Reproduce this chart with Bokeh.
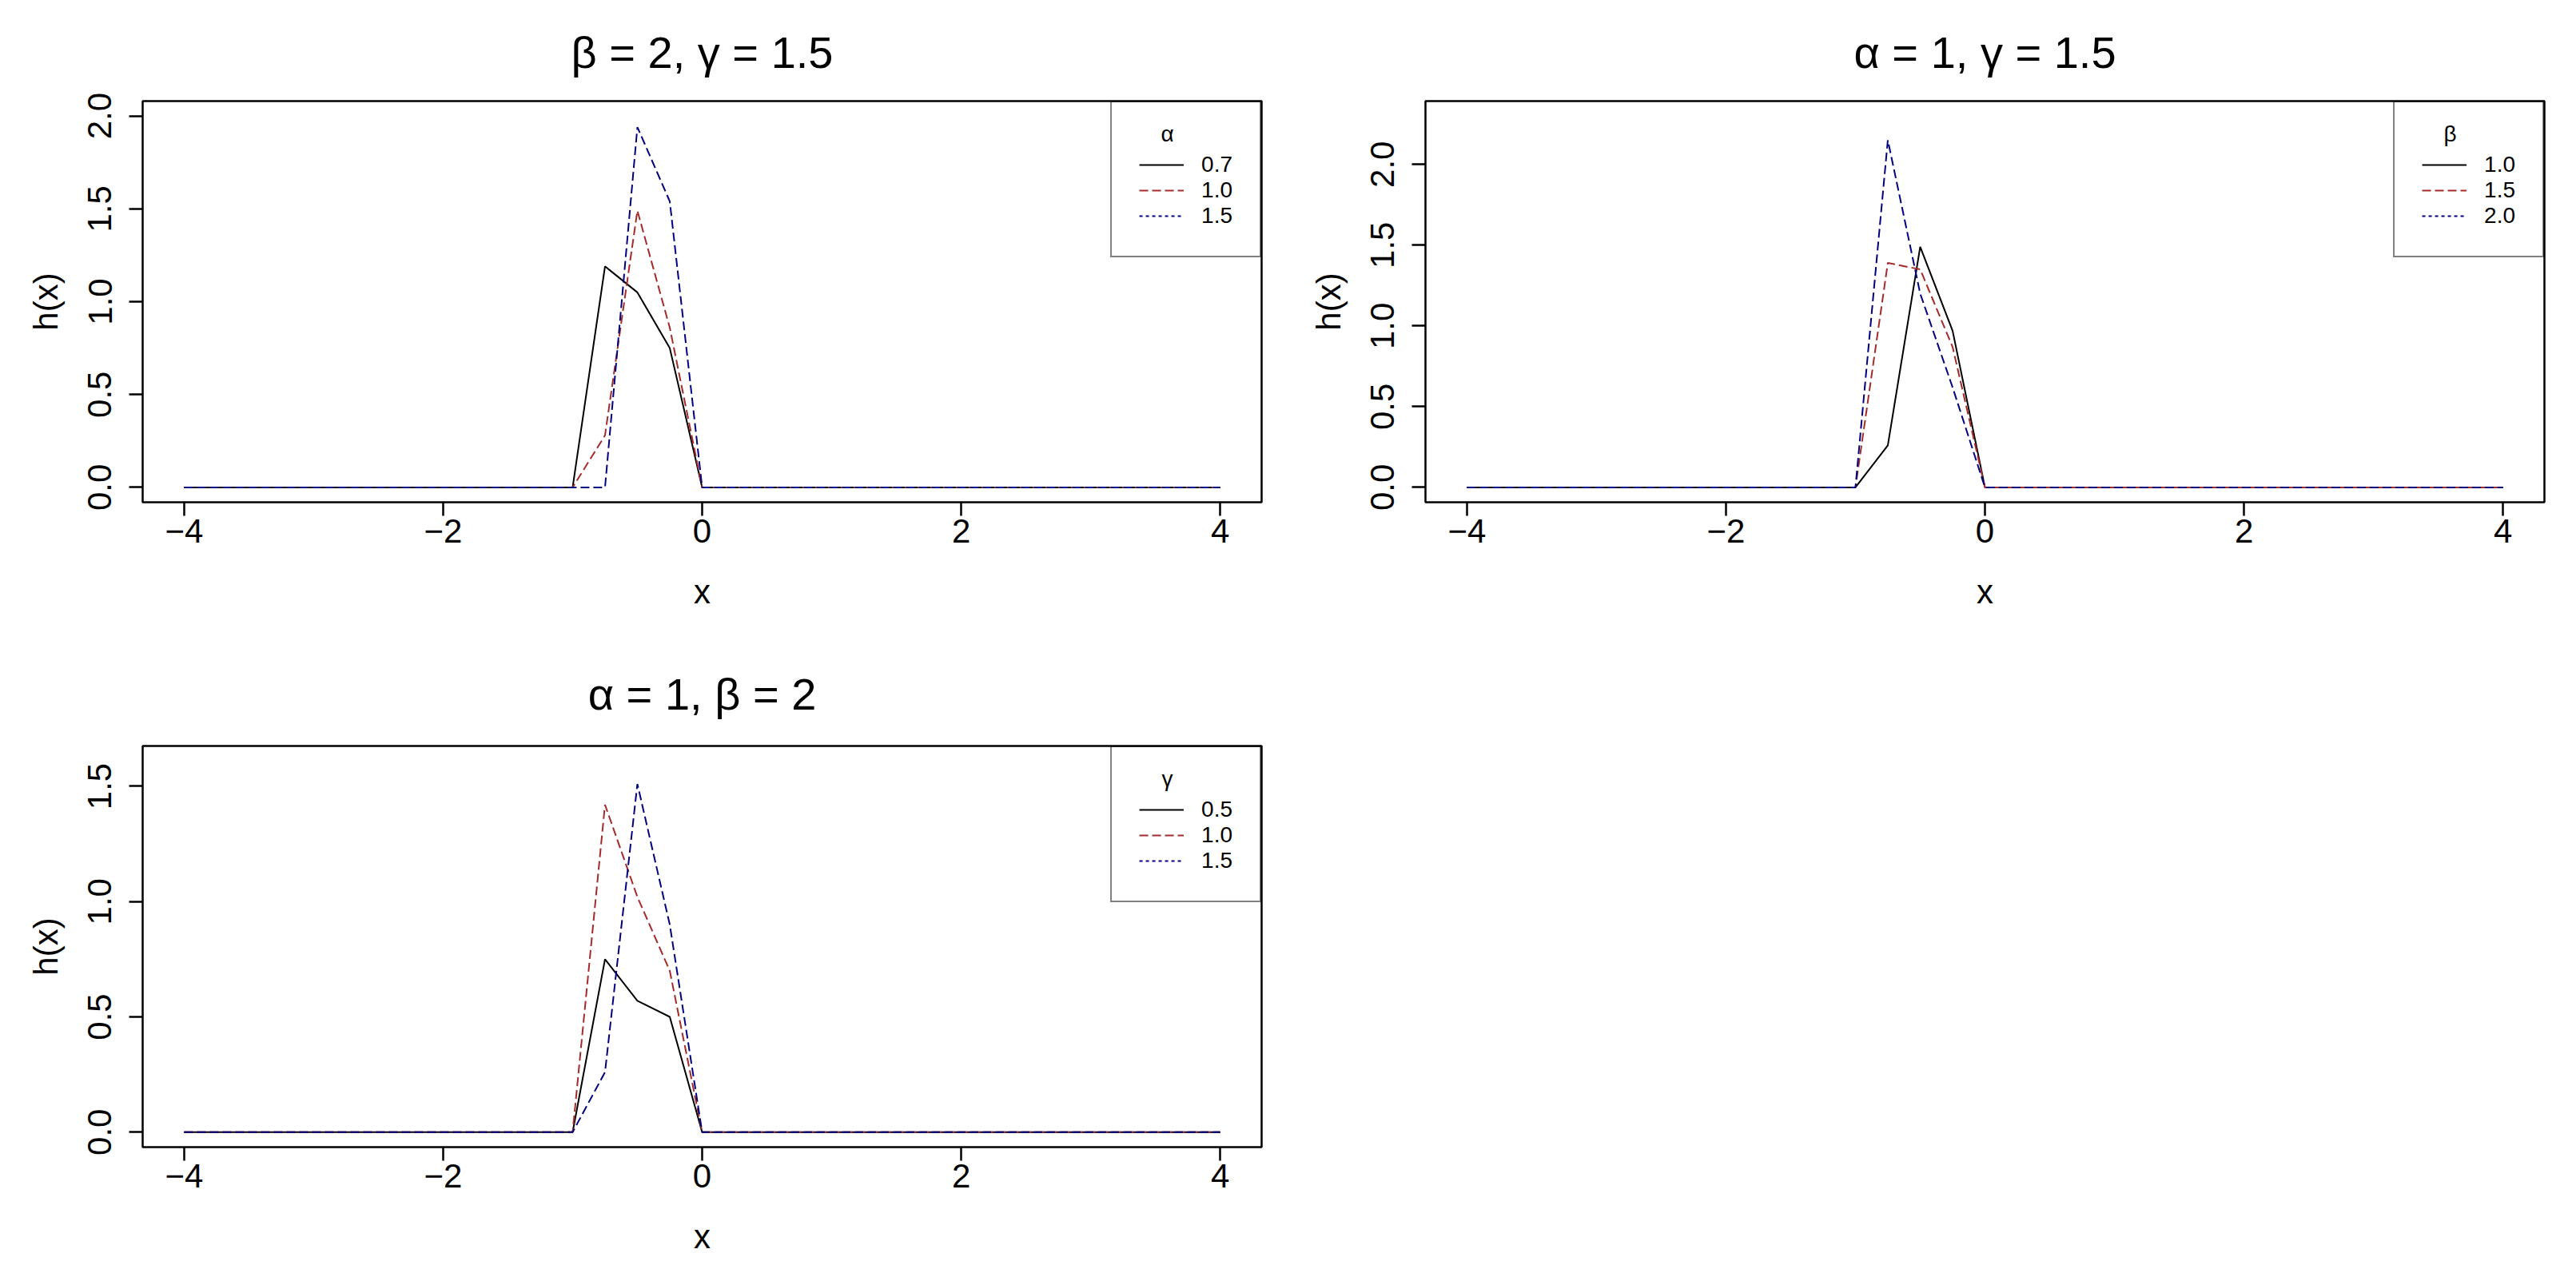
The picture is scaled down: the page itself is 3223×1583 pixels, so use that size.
from bokeh.plotting import figure
from bokeh.models import Range1d, FixedTicker, PrintfTickFormatter, Legend, LegendItem
from bokeh.core.properties import value
from bokeh.layouts import column, row
from bokeh.embed import file_html
from bokeh.resources import INLINE

# ---------------- data ----------------
x_pts = [-4.0, -1.0, -0.75, -0.5, -0.25, 0.0, 4.0]

# panel 1: beta = 2, gamma = 1.5, varying alpha
p1_labels = ["0.7", "1.0", "1.5"]
p1_a07 = [0.0, 0.0, 1.19, 1.05, 0.75, 0.0, 0.0]
p1_a10 = [0.0, 0.0, 0.28, 1.49, 0.86, 0.0, 0.0]
p1_a15 = [0.0, 0.0, 0.0, 1.94, 1.54, 0.0, 0.0]

# panel 2: alpha = 1, gamma = 1.5, varying beta
p2_labels = ["1.0", "1.5", "2.0"]
p2_b10 = [0.0, 0.0, 0.26, 1.49, 0.97, 0.0, 0.0]
p2_b15 = [0.0, 0.0, 1.39, 1.35, 0.87, 0.0, 0.0]
p2_b20 = [0.0, 0.0, 2.15, 1.20, 0.62, 0.0, 0.0]

# panel 3: alpha = 1, beta = 2, varying gamma
p3_labels = ["0.5", "1.0", "1.5"]
p3_g05 = [0.0, 0.0, 0.75, 0.57, 0.50, 0.0, 0.0]
p3_g10 = [0.0, 0.0, 1.42, 1.02, 0.70, 0.0, 0.0]
p3_g15 = [0.0, 0.0, 0.26, 1.51, 0.90, 0.0, 0.0]

x_ticks = [-4, -2, 0, 2, 4]
x_tick_text = {-4: "\u22124", -2: "\u22122", 0: "0", 2: "2", 4: "4"}
y_ticks_12 = [0.0, 0.5, 1.0, 1.5, 2.0]
y_ticks_3 = [0.0, 0.5, 1.0, 1.5]

FONT = "Liberation Sans"
BLACK = "#000000"
RED = "#A52A2A"
BLUE = "#000080"
NAN = float("nan")

FRAME_W = 1400
FRAME_H = 502
X_LO, X_HI = -4.32, 4.32


def make_panel(title, ylo, yhi, yticks, bl, br, bt, bb, title_standoff,
               series, labels, legend_title):
    p = figure(frame_width=FRAME_W, frame_height=FRAME_H,
               x_range=Range1d(X_LO, X_HI), y_range=Range1d(ylo, yhi),
               min_border_left=bl, min_border_right=br,
               min_border_top=bt, min_border_bottom=bb,
               output_backend="svg", toolbar_location=None)
    p.background_fill_color = "white"
    p.border_fill_color = "white"
    p.xgrid.visible = False
    p.ygrid.visible = False
    p.outline_line_color = "black"
    p.outline_line_width = 2.5

    p.title.text = title
    p.title.align = "center"
    p.title.text_font = FONT
    p.title.text_font_size = "56px"
    p.title.text_font_style = "normal"
    p.title.text_color = "black"
    p.title.standoff = title_standoff

    for ax in (p.xaxis[0], p.yaxis[0]):
        ax.axis_line_color = None
        ax.major_tick_line_color = "black"
        ax.major_tick_line_width = 2.5
        ax.major_tick_out = 17
        ax.major_tick_in = 0
        ax.minor_tick_line_color = None
        ax.major_label_text_font = FONT
        ax.major_label_text_font_size = "42px"
        ax.major_label_text_color = "black"
        ax.axis_label_text_font = FONT
        ax.axis_label_text_font_size = "42px"
        ax.axis_label_text_font_style = "normal"
        ax.axis_label_text_color = "black"

    p.xaxis.ticker = FixedTicker(ticks=x_ticks)
    p.xaxis.major_label_overrides = x_tick_text
    p.xaxis.major_label_standoff = 4
    p.xaxis.axis_label = "x"
    p.xaxis.axis_label_standoff = 35

    p.yaxis.ticker = FixedTicker(ticks=yticks)
    p.yaxis.formatter = PrintfTickFormatter(format="%.1f")
    p.yaxis.major_label_orientation = "parallel"
    p.yaxis.major_label_standoff = 22
    p.yaxis.axis_label = "h(x)"
    p.yaxis.axis_label_standoff = 27

    # legend heading, centred over the key column (placed from the frame geometry)
    hx = X_HI - 118.0 / FRAME_W * (X_HI - X_LO)
    hy = yhi - 41.0 / FRAME_H * (yhi - ylo)
    p.text(x=[hx], y=[hy], text=[legend_title], text_align="center",
           text_baseline="middle", text_font=value(FONT), text_font_size="28px",
           text_color="black")

    s1, s2, s3 = series
    r1 = p.line(x_pts, s1, line_color=BLACK, line_width=2)
    r2 = p.line(x_pts, s2, line_color=RED, line_width=2, line_dash="11 5")
    p.line(x_pts, s3, line_color=BLUE, line_width=2, line_dash="11 5")
    # legend key for the third series (dotted in the key only)
    k3 = p.line([NAN], [NAN], line_color=BLUE, line_width=2, line_dash="4 4")

    leg = Legend(items=[LegendItem(label=labels[0], renderers=[r1]),
                        LegendItem(label=labels[1], renderers=[r2]),
                        LegendItem(label=labels[2], renderers=[k3])],
                 location="top_right", title=" ")
    leg.margin = 0
    leg.padding = 34
    leg.spacing = 0
    leg.glyph_width = 56
    leg.glyph_height = 30
    leg.label_height = 30
    leg.label_standoff = 22
    leg.label_text_font = FONT
    leg.label_text_font_size = "28px"
    leg.label_text_line_height = 1.0
    leg.label_text_color = "black"
    leg.title_text_font = FONT
    leg.title_text_font_size = "20px"
    leg.title_text_font_style = "normal"
    leg.title_standoff = 5
    leg.border_line_color = "black"
    leg.border_line_width = 2.5
    leg.background_fill_alpha = 0.0
    p.add_layout(leg)
    return p


p1 = make_panel("\u03b2 = 2, \u03b3 = 1.5", -0.08, 2.08, y_ticks_12, 178, 22, 126, 170, 60,
                (p1_a07, p1_a10, p1_a15), p1_labels, "\u03b1")
p2 = make_panel("\u03b1 = 1, \u03b3 = 1.5", -0.092, 2.392, y_ticks_12, 183, 20, 126, 170, 60,
                (p2_b10, p2_b15, p2_b20), p2_labels, "\u03b2")
p3 = make_panel("\u03b1 = 1, \u03b2 = 2", -0.065, 1.675, y_ticks_3, 178, 22, 135, 135, 68,
                (p3_g05, p3_g10, p3_g15), p3_labels, "\u03b3")

layout = column(row(p1, p2, spacing=0), p3, spacing=0)
open("out.html", "w").write(file_html(layout, INLINE))
